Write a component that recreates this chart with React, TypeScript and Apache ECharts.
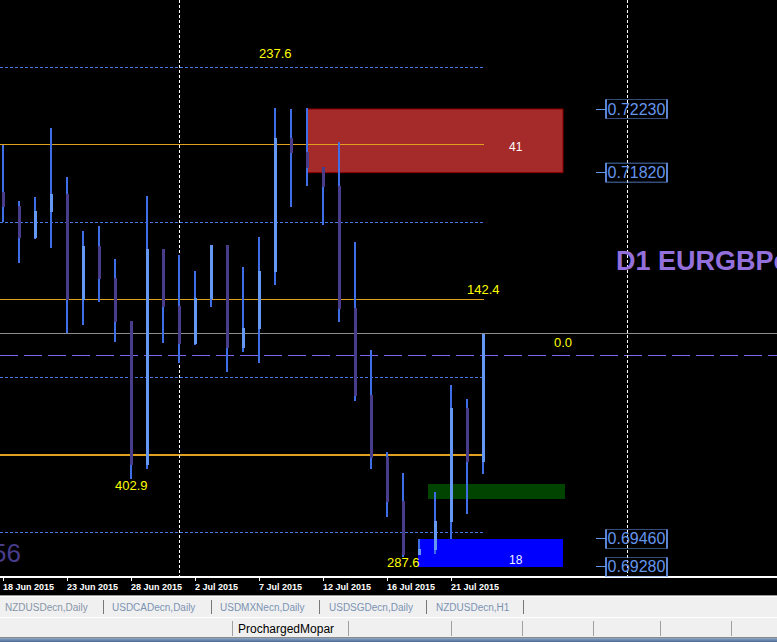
import React, { useEffect, useRef } from "react";
import * as echarts from "echarts";

// ---- data ----
const dates = [
  "18 Jun 2015", "19 Jun 2015", "21 Jun 2015", "22 Jun 2015", "23 Jun 2015", "24 Jun 2015", "25 Jun 2015", "26 Jun 2015",
  "28 Jun 2015", "29 Jun 2015", "30 Jun 2015", "1 Jul 2015", "2 Jul 2015", "3 Jul 2015", "5 Jul 2015", "6 Jul 2015",
  "7 Jul 2015", "8 Jul 2015", "9 Jul 2015", "10 Jul 2015", "12 Jul 2015", "13 Jul 2015", "14 Jul 2015", "15 Jul 2015",
  "16 Jul 2015", "17 Jul 2015", "19 Jul 2015", "20 Jul 2015", "21 Jul 2015", "22 Jul 2015", "23 Jul 2015",
];
const tickIdx = [0, 4, 8, 12, 16, 20, 24, 28];

const opens = [0.71695, 0.71605, 0.71399, 0.71566, 0.71682, 0.71000, 0.71347, 0.71141, 0.70864, 0.69937, 0.71328, 0.70961, 0.70716, 0.71006, 0.71354, 0.70690, 0.70813, 0.71180, 0.72043, 0.71953, 0.71856, 0.71734, 0.70948, 0.70388, 0.69988, 0.69705, 0.69357, 0.69389, 0.69569, 0.70304, 0.69956];
const closes = [0.71599, 0.71399, 0.71573, 0.71682, 0.71000, 0.71347, 0.71135, 0.70858, 0.69937, 0.71328, 0.70955, 0.70716, 0.71013, 0.71354, 0.70690, 0.70819, 0.71186, 0.72043, 0.71947, 0.71850, 0.71728, 0.70942, 0.70381, 0.69982, 0.69698, 0.69357, 0.69396, 0.69576, 0.70304, 0.69956, 0.70781];
const lows = [0.71502, 0.71238, 0.71393, 0.71335, 0.70787, 0.70839, 0.70987, 0.70729, 0.69847, 0.69911, 0.70723, 0.70594, 0.70710, 0.70955, 0.70536, 0.70665, 0.70594, 0.71096, 0.71599, 0.71734, 0.71483, 0.70858, 0.70349, 0.69911, 0.69602, 0.69344, 0.69357, 0.69363, 0.69460, 0.69621, 0.69879];
const highs = [0.71998, 0.71637, 0.71663, 0.72108, 0.71792, 0.71444, 0.71476, 0.71264, 0.70864, 0.71670, 0.71328, 0.71290, 0.71186, 0.71354, 0.71354, 0.71212, 0.71405, 0.72236, 0.72230, 0.72236, 0.71856, 0.72017, 0.71373, 0.70678, 0.70020, 0.69885, 0.69460, 0.69763, 0.70452, 0.70362, 0.70781];

const orangeLevels = [0.72, 0.71, 0.70];
const dottedLevels = [0.725, 0.715, 0.705, 0.695];
const bidLevel = 0.70781;
const dashedLevel = 0.70639;
const verticalBars = [11, 39];
const levelEnd = 30.0625;

// zones: [x0, x1, yTop, yBottom]
const redZone = [19, 35, 0.7223, 0.7182];
const greenZone = [26.5625, 35.125, 0.69814, 0.69718];
const blueZone = [25.9375, 35, 0.6946, 0.6928];
const priceTags = [0.7223, 0.7182, 0.6946, 0.6928];

const X_MIN = -0.1875;
const X_MAX = 48.375;
const Y_MIN = 0.692151;
const Y_MAX = 0.729322;

const WICK = "#3f6fe6";
const BULL = "#6598f2";
const BEAR = "#483d8b";

const LSTYLES: any[] = [
  { color: "#e0a020", width: 1, dash: null }, // 0 orange
  { color: "#e0a020", width: 2, dash: null }, // 1 orange thick
  { color: "#4a78e6", width: 1, dash: [3, 2] }, // 2 blue dotted
  { color: "#8c8c8c", width: 1, dash: null }, // 3 gray bid
  { color: "#7b68ee", width: 1, dash: [18, 6] }, // 4 purple dashed
  { color: "#6495ed", width: 1, dash: null }, // 5 tag tick
  { color: "#ffffff", width: 1, dash: [3, 2] }, // 6 white dotted vertical
];

function segs(a0: number, a1: number, fixed: number, st: any, vertical: boolean) {
  const out: any[] = [];
  const pushRect = (s: number, e: number) => {
    const shape = vertical
      ? { x: fixed, y: s, width: st.width, height: e - s }
      : { x: s, y: fixed, width: e - s, height: st.width };
    out.push({ type: "rect", shape, style: { fill: st.color } });
  };
  if (!st.dash) {
    pushRect(a0, a1);
  } else {
    const on = st.dash[0];
    const off = st.dash[1];
    for (let s = a0; s < a1; s += on + off) pushRect(s, Math.min(a1, s + on));
  }
  return out;
}

export default function App() {
  const ref = useRef<HTMLDivElement>(null);
  useEffect(() => {
    if (!ref.current) return;
    const chart = echarts.init(ref.current, undefined, { renderer: "svg" });
    const candleData = opens.map((o, i) => [i, o, closes[i], lows[i], highs[i]]);

    const hData: number[][] = [];
    orangeLevels.forEach((v, k) => hData.push([X_MIN, levelEnd, v, k === 2 ? 1 : 0]));
    dottedLevels.forEach((v) => hData.push([X_MIN, levelEnd, v, 2]));
    hData.push([X_MIN, X_MAX, bidLevel, 3]);
    hData.push([X_MIN, X_MAX, dashedLevel, 4]);
    priceTags.forEach((p) => hData.push([37.0625, 37.6875, p, 5]));
    const vData = verticalBars.map((v) => [v, 6]);

    const zone = (z: number[], color: string, border?: string) => [
      { coord: [z[0], z[2]], itemStyle: { color, borderColor: border || color, borderWidth: border ? 1 : 0 } },
      { coord: [z[1], z[3]] },
    ];

    const txt = (text: string, x: number, y: number, color: string, size: number, extra: any = {}) => ({
      type: "text",
      x,
      y,
      z: 100,
      silent: true,
      style: {
        text,
        fill: color,
        fontSize: size,
        fontFamily: "Liberation Sans, Arial, sans-serif",
        verticalAlign: "middle",
        align: "left",
        ...extra,
      },
    });
    const vline = (x: number, y1: number, y2: number, color: string) => ({
      type: "rect",
      z: 100,
      silent: true,
      shape: { x, y: y1, width: 1, height: y2 - y1 },
      style: { fill: color },
    });

    const tabColor = "#7b93b3";
    const graphic: any[] = [
      { type: "rect", z: 90, shape: { x: 0, y: 595, width: 777, height: 23 }, style: { fill: "#f0f0f0" } },
      { type: "rect", z: 91, shape: { x: 0, y: 595, width: 777, height: 1 }, style: { fill: "#9a9a9a" } },
      { type: "rect", z: 91, shape: { x: 0, y: 596, width: 777, height: 1 }, style: { fill: "#ffffff" } },
      { type: "rect", z: 90, shape: { x: 0, y: 618, width: 777, height: 20 }, style: { fill: "#f0f0f0" } },
      { type: "rect", z: 91, shape: { x: 0, y: 617, width: 777, height: 1 }, style: { fill: "#ffffff" } },
      { type: "rect", z: 91, shape: { x: 0, y: 637, width: 777, height: 1 }, style: { fill: "#8a8a8a" } },
      {
        type: "rect",
        z: 90,
        shape: { x: 0, y: 638, width: 777, height: 4 },
        style: {
          fill: new echarts.graphic.LinearGradient(0, 0, 0, 1, [
            { offset: 0, color: "#8ea8c8" },
            { offset: 1, color: "#4c6a92" },
          ]),
        },
      },
      txt("NZDUSDecn,Daily", 5, 607, "#8795a8", 10),
      txt("USDCADecn,Daily", 112, 607, tabColor, 10),
      txt("USDMXNecn,Daily", 220, 607, tabColor, 10),
      txt("USDSGDecn,Daily", 329, 607, tabColor, 10),
      txt("NZDUSDecn,H1", 436, 607, tabColor, 10),
      vline(103, 600, 614, "#777"),
      vline(211, 600, 614, "#777"),
      vline(319, 600, 614, "#777"),
      vline(426, 600, 614, "#777"),
      vline(523, 600, 614, "#777"),
      txt("ProchargedMopar", 238, 629, "#000", 12),
      vline(232, 621, 636, "#a0a0a0"),
      vline(348, 621, 636, "#a0a0a0"),
      vline(451, 621, 636, "#a0a0a0"),
      vline(522, 621, 636, "#a0a0a0"),
      vline(593, 621, 636, "#a0a0a0"),
      vline(660, 621, 636, "#a0a0a0"),
      vline(731, 621, 636, "#a0a0a0"),
      txt("237.6", 259, 53, "#ffff00", 13),
      txt("142.4", 467, 289, "#ffff00", 13),
      txt("0.0", 554, 342, "#ffff00", 13),
      txt("402.9", 115, 485.5, "#ffff00", 13),
      txt("287.6", 387, 562.5, "#ffff00", 13),
      txt("41", 509, 147, "#ffffff", 12),
      txt("18", 509, 560, "#f0f4ff", 12),
      txt("D1 EURGBPc", 616, 261, "#9370db", 27, { fontWeight: "bold" }),
      txt("56", 21, 553, "#483d8b", 26, { align: "right" }),
    ];

    chart.setOption({
      animation: false,
      backgroundColor: "#000000",
      grid: { left: 0, top: 0, width: 777, height: 577, containLabel: false, outerBoundsMode: "none" },
      xAxis: {
        type: "value",
        min: X_MIN,
        max: X_MAX,
        axisLine: { show: true, onZero: false, lineStyle: { color: "#ffffff", width: 2 } },
        axisTick: { show: true, customValues: tickIdx, length: 4, lineStyle: { color: "#ffffff" } },
        axisLabel: {
          show: true,
          customValues: tickIdx,
          formatter: (v: number) => dates[Math.round(v)] || "",
          color: "#ffffff",
          fontSize: 9,
          fontWeight: "bold",
          fontFamily: "Liberation Sans, Arial, sans-serif",
          align: "left",
          margin: 5,
        },
        splitLine: { show: false },
      },
      yAxis: { type: "value", min: Y_MIN, max: Y_MAX, show: false, scale: true },
      graphic,
      series: [
        {
          type: "line",
          data: [],
          z: 1,
          silent: true,
          markArea: {
            silent: true,
            label: { show: false },
            data: [
              zone(redZone, "#a52a2a", "#8b0000"),
              zone(greenZone, "#004400"),
              zone(blueZone, "#0000ff"),
            ],
          },
        },
        {
          type: "custom",
          z: 3,
          silent: true,
          encode: { x: [0, 1], y: 2 },
          data: hData,
          renderItem: (params: any, api: any) => {
            const v = api.value(2);
            const st = LSTYLES[api.value(3)];
            const x0 = Math.round(api.coord([api.value(0), v])[0]);
            const x1 = Math.round(api.coord([api.value(1), v])[0]);
            const y = api.coord([api.value(0), v])[1];
            const yy = st.width === 1 ? Math.floor(y) : Math.round(y - 1);
            return { type: "group", children: segs(x0, x1, yy, st, false) };
          },
        },
        {
          type: "custom",
          z: 3,
          silent: true,
          encode: { x: 0 },
          data: vData,
          renderItem: (params: any, api: any) => {
            const v = api.value(0);
            const st = LSTYLES[api.value(1)];
            const x = Math.floor(api.coord([v, Y_MAX])[0]);
            const y0 = Math.round(api.coord([v, Y_MAX])[1]);
            const y1 = Math.round(api.coord([v, Y_MIN])[1]);
            return { type: "group", children: segs(y0, y1, x, st, true) };
          },
        },
        {
          type: "custom",
          z: 5,
          silent: true,
          encode: { x: 0, y: [1, 2, 3, 4] },
          data: candleData,
          renderItem: (params: any, api: any) => {
            const i = api.value(0);
            const o = api.value(1);
            const c = api.value(2);
            const l = api.value(3);
            const h = api.value(4);
            const x = Math.round(api.coord([i, o])[0]);
            const yo = api.coord([i, o])[1];
            const yc = api.coord([i, c])[1];
            const yl = api.coord([i, l])[1];
            const yh = api.coord([i, h])[1];
            const top = Math.round(Math.min(yo, yc));
            const bot = Math.round(Math.max(yo, yc));
            return {
              type: "group",
              children: [
                {
                  type: "rect",
                  shape: { x: x - 1, y: Math.round(yh), width: 2, height: Math.max(1, Math.round(yl) - Math.round(yh)) },
                  style: { fill: WICK },
                },
                {
                  type: "rect",
                  shape: { x: x - 1, y: top, width: 3, height: Math.max(1, bot - top) },
                  style: { fill: c >= o ? BULL : BEAR },
                },
              ],
            };
          },
        },
        {
          type: "line",
          data: [],
          z: 6,
          silent: true,
          markPoint: {
            silent: true,
            animation: false,
            precision: 5,
            data: priceTags.map((p) => ({
              coord: [39.59375, p],
              symbol: "rect",
              symbolSize: [61, 19],
              itemStyle: { color: "rgba(0,0,0,0)", borderColor: "#6495ed", borderWidth: 1 },
              label: {
                show: true,
                position: "inside",
                formatter: p.toFixed(5),
                color: "#6495ed",
                fontSize: 16,
                fontFamily: "Liberation Sans, Arial, sans-serif",
              },
            })),
          },
        },
      ],
    });
    return () => chart.dispose();
  }, []);
  return <div ref={ref} style={{ position: "absolute", left: 0, top: 0, width: 777, height: 642 }} />;
}
